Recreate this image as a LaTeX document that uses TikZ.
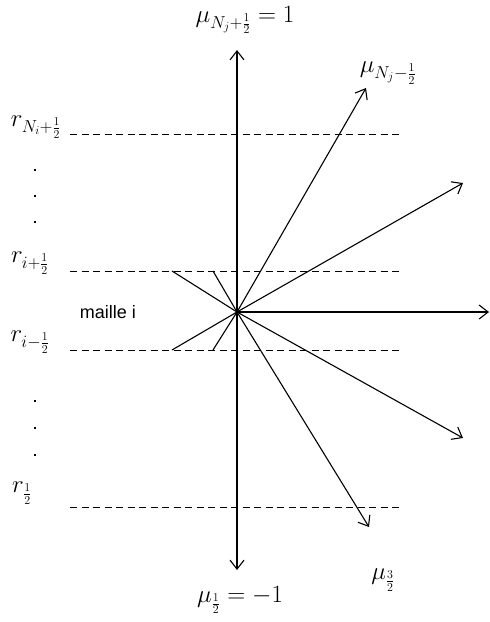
\documentclass[tikz,border=0pt]{standalone}
\usepackage{fontspec}
\newfontfamily\labsans{Liberation Sans}
\usetikzlibrary{arrows.meta}
\begin{document}
\begin{tikzpicture}[x=1pt,y=-1pt,
  ray/.style={line width=1.1pt,-{Straight Barb[length=9pt,width=14pt,line width=1.1pt]}},
  back/.style={line width=1.1pt},
  level/.style={line width=1pt,dash pattern=on 7pt off 4.5pt},
  lab/.style={inner sep=0pt,font=\fontsize{23}{26}\selectfont},
  dotmark/.style={fill=black,minimum size=2.6pt,inner sep=0pt,rectangle}]
\useasboundingbox (0,0) rectangle (490,622);
% levels
\coordinate (L1a) at (70,134); \coordinate (L1b) at (400,134);
\coordinate (L2a) at (70,271); \coordinate (L2b) at (400,271);
\coordinate (L3a) at (70,350); \coordinate (L3b) at (400,350);
\coordinate (L4a) at (70,507); \coordinate (L4b) at (400,507);
\draw[level] (L1a) -- (L1b);
\draw[level] (L2a) -- (L2b);
\draw[level] (L3a) -- (L3b);
\draw[level] (L4a) -- (L4b);
% center
\coordinate (O) at (237,312);
\coordinate (Tup) at (237,50);
\coordinate (Tdn) at (237,570);
\coordinate (T1) at (366,88);
\coordinate (T2) at (463,183);
\coordinate (T3) at (489,312);
\coordinate (T4) at (463,438);
\coordinate (T5) at (369,527);
\draw[ray] (O) -- (Tup);
\draw[ray] (O) -- (Tdn);
\draw[ray] (O) -- (T1);
\draw[ray] (O) -- (T2);
\draw[ray] (O) -- (T3);
\draw[ray] (O) -- (T4);
\draw[ray] (O) -- (T5);
\coordinate (B1) at (172,271);
\coordinate (B2) at (213,271);
\coordinate (B3) at (172,350);
\coordinate (B4) at (213,350);
\draw[back] (O) -- (B1);
\draw[back] (O) -- (B2);
\draw[back] (O) -- (B3);
\draw[back] (O) -- (B4);
% dots
\node[dotmark] (d1) at (35,170) {};
\node[dotmark] (d2) at (35,196) {};
\node[dotmark] (d3) at (35,222) {};
\node[dotmark] (d4) at (35,401) {};
\node[dotmark] (d5) at (35,428) {};
\node[dotmark] (d6) at (35,455) {};
% labels
\node[lab] (mutop) at (245,20) {$\mu_{N_j+\frac{1}{2}}=1$};
\node[lab] (muNm) at (388,73) {$\mu_{N_j-\frac{1}{2}}$};
\node[lab] (mu32) at (383,580) {$\mu_{\frac{3}{2}}$};
\node[lab] (mubot) at (240,600) {$\mu_{\frac{1}{2}}=-1$};
\node[lab] (rN) at (36,127) {$r_{N_i+\frac{1}{2}}$};
\node[lab] (rip) at (30,263) {$r_{i+\frac{1}{2}}$};
\node[lab] (rim) at (30,342) {$r_{i-\frac{1}{2}}$};
\node[lab] (r12) at (22,493) {$r_{\frac{1}{2}}$};
\node[inner sep=0pt,font=\labsans\fontsize{18}{21}\selectfont] (maille) at (108,312) {maille i};
\end{tikzpicture}
\end{document}
